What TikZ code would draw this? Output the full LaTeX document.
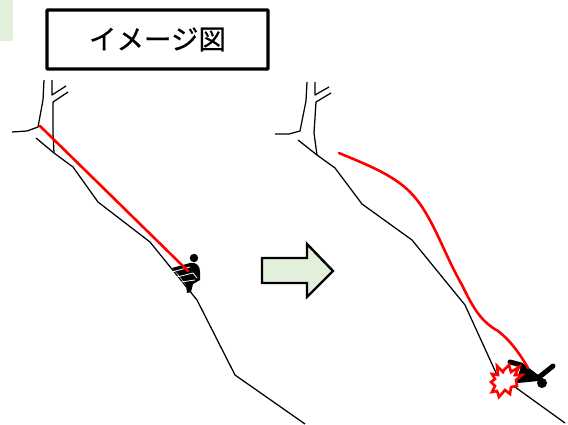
\documentclass[tikz,border=0pt]{standalone}
\usepackage{fontspec}
\newfontfamily\jpfont[FakeBold=0.6]{Noto Sans CJK JP}
\definecolor{palegreen}{HTML}{E2EFDA}
\tikzset{
  terrain/.style={draw=black,line width=1.25pt,line join=round},
  rope/.style={draw=red,line width=2.6pt,line cap=round,line join=round},
  figure/.style={draw=black,line cap=round,line join=round},
  titlebox/.style={draw=black,line width=3.4pt,rounded corners=0.8pt,minimum width=221pt,minimum height=59pt,inner sep=0pt,font=\jpfont\fontsize{27.5pt}{30pt}\selectfont},
}
\begin{document}
\begin{tikzpicture}[x=1pt,y=-1pt]
\useasboundingbox (0,0) rectangle (568,424);
\fill[palegreen] (0,0) rectangle (13,41);
\node[titlebox] (title) at (157.5,39.5) {イメージ図};

% Tree and slope, before the fall
\draw[terrain] (44,80) -- (43,100) -- (38,127) -- (27,131) -- (12,132);
\draw[terrain] (52,80) -- (52,95) -- (66,86);
\draw[terrain] (68,92) -- (53,102) -- (53,133) -- (54,153);
\draw[terrain] (36,138) -- (54,153) -- (73,167) -- (98,202) -- (150,242) -- (197,300) -- (235,375) -- (305,424);

% Climber on the rock face
\fill[black] (194,258) circle (4.2pt);
\fill[black] (172,268) -- (190,263) .. controls (197,262) and (200,266) .. (200,272) -- (200,280) -- (193,284) -- (191,292) -- (187,293) -- (186,285) -- (178,274) -- cycle;
\draw[white,line width=0.8pt] (172,272) -- (190,267);
\draw[white,line width=0.8pt] (177,277) -- (193,273) -- (197,278);
\draw[white,line width=0.8pt] (181,282) -- (195,280);
\draw[rope] (40,126) -- (188,271);

% Tree and slope, after the fall
\draw[terrain] (307,82) -- (306,101) -- (300,131) -- (289,134) -- (275,134);
\draw[terrain] (315,82) -- (315,95) -- (329,87);
\draw[terrain] (331,93) -- (316,102) -- (314,133) -- (317,155);
\draw[terrain] (298,140) -- (317,155) -- (335,168) -- (362,204) -- (412,240) -- (465,305) -- (497,375) -- (515,387) -- (565,423);

% Transition arrow
\draw[draw=black,line width=2.4pt,miter limit=8,fill=palegreen] (262,258) -- (307,258) -- (307,244) -- (333,271) -- (307,297) -- (307,283) -- (262,283) -- cycle;

% Fallen climber
\fill[black] (542,383) circle (5pt);
\draw[figure,line width=5pt] (553,366) -- (538,378) -- (521,365) -- (510,362);
\draw[figure,line width=6pt] (538,378) -- (518,380);
\fill[black] (521,366) -- (540,376) -- (530,381) -- (518,376) -- cycle;
\draw[rope] (339,153) .. controls (365,164) and (392,174) .. (410,192) .. controls (432,214) and (443,252) .. (462,285) .. controls (474,310) and (482,322) .. (498,331) .. controls (510,340) and (520,354) .. (528,368);

% Impact burst
\draw[draw=red,line width=2.6pt,fill=white,line join=miter,miter limit=4]
  (504,370) -- (509,365) -- (511,372) -- (519,367) -- (515,375) -- (522,375) -- (516,380) -- (517,386)
  -- (511,387) -- (510,394) -- (505,390) -- (499,397) -- (497,391) -- (492,392) -- (495,386)
  -- (491,382) -- (495,379) -- (492,374) -- (498,375) -- (497,366) -- (503,372) -- cycle;
\end{tikzpicture}
\end{document}
